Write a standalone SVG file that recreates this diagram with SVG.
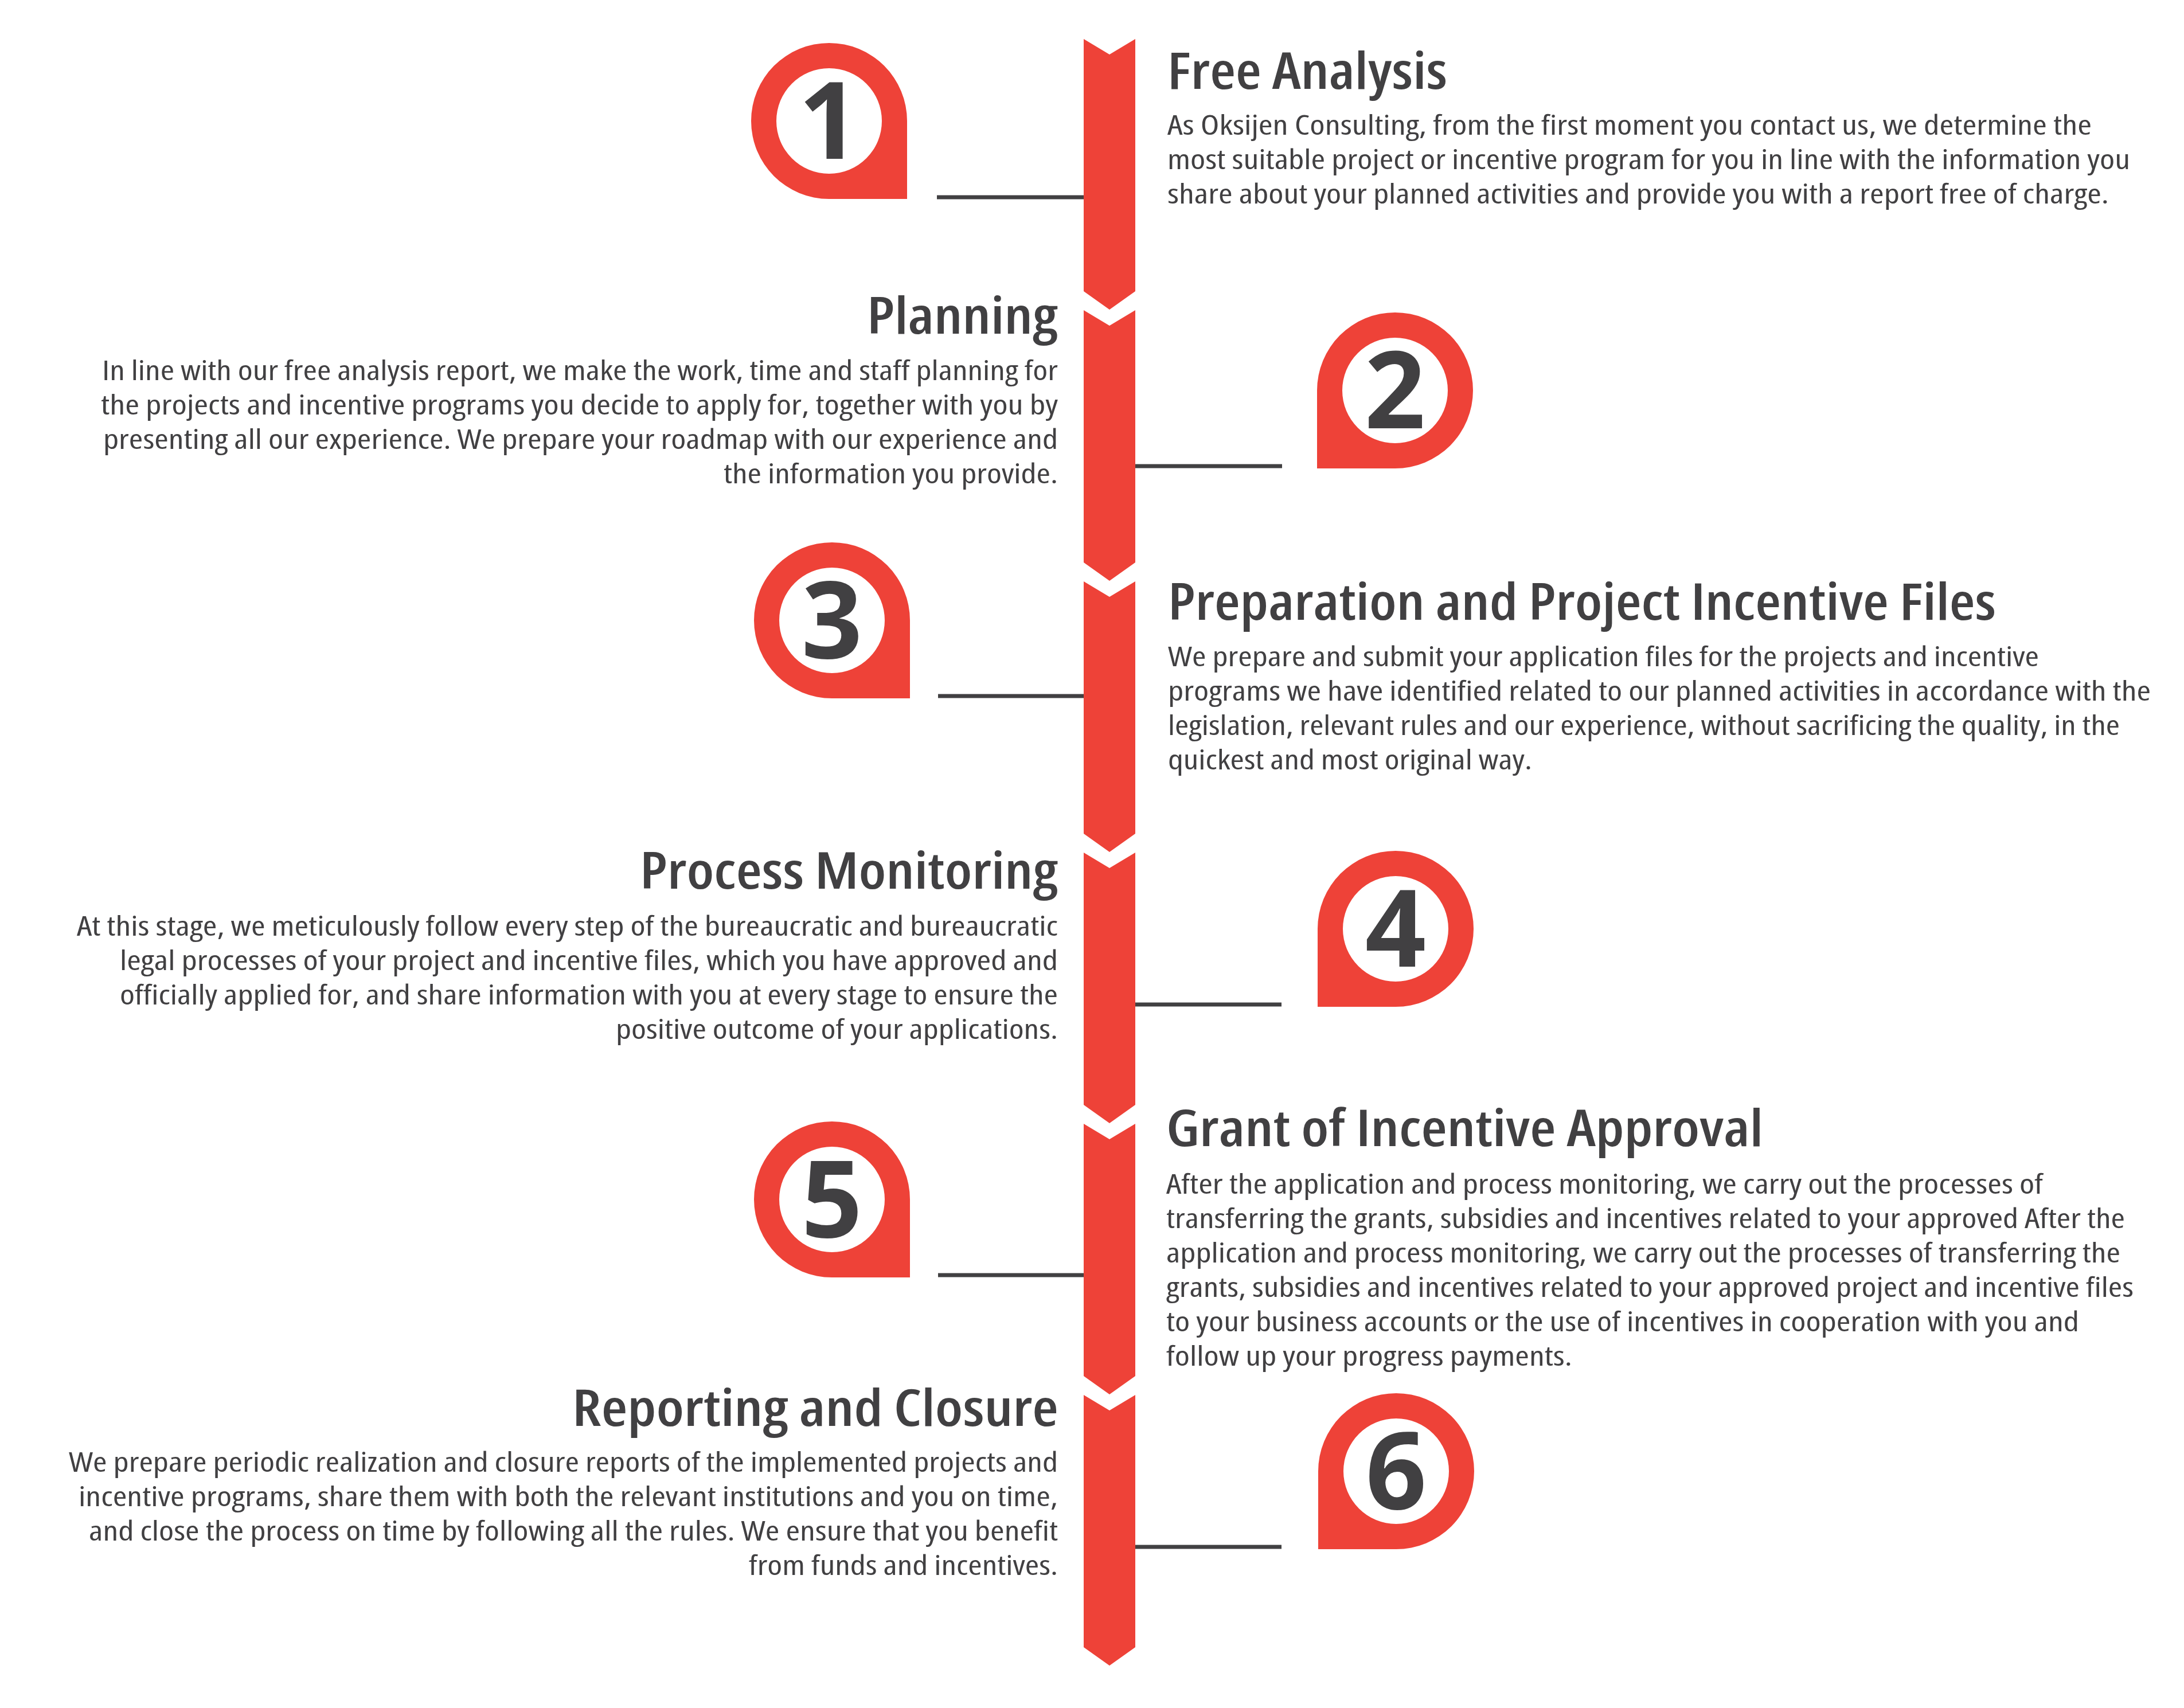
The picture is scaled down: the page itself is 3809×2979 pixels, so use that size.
<svg xmlns="http://www.w3.org/2000/svg" width="3809" height="2979" viewBox="0 0 3809 2979">
<style>
.bg{fill:#ffffff}
.seg{fill:#EE4238}
.pin{fill:#EE4238;fill-rule:evenodd}
.num{font-family:"Open Sans","Noto Sans",sans-serif;font-weight:700;font-size:186px;fill:#414042;text-anchor:middle}
.ttl{font-family:"Open Sans","Noto Sans",sans-serif;font-weight:600;font-size:88px;font-stretch:87.5%;fill:#414042}
.txt{font-family:"Open Sans","Noto Sans",sans-serif;font-weight:400;font-size:48px;font-stretch:80%;fill:#414042}
.con{stroke:#414042;stroke-width:7;fill:none}
</style>
<rect class="bg" x="0" y="0" width="3809" height="2979"/>
<g id="spine">
<polygon class="seg" points="1890,68 1935,95 1980,68 1980,508 1935,540 1890,508"/>
<polygon class="seg" points="1890,541 1935,568 1980,541 1980,981 1935,1013 1890,981"/>
<polygon class="seg" points="1890,1014 1935,1041 1980,1014 1980,1454 1935,1486 1890,1454"/>
<polygon class="seg" points="1890,1487 1935,1514 1980,1487 1980,1927 1935,1959 1890,1927"/>
<polygon class="seg" points="1890,1960 1935,1987 1980,1960 1980,2400 1935,2432 1890,2400"/>
<polygon class="seg" points="1890,2433 1935,2460 1980,2433 1980,2873 1935,2905 1890,2873"/>
</g>
<g id="connectors">
<line class="con" x1="1634" y1="344" x2="1890" y2="344"/>
<line class="con" x1="1980" y1="813" x2="2236" y2="813"/>
<line class="con" x1="1636" y1="1214" x2="1890" y2="1214"/>
<line class="con" x1="1980" y1="1752" x2="2235" y2="1752"/>
<line class="con" x1="1636" y1="2224" x2="1890" y2="2224"/>
<line class="con" x1="1980" y1="2698" x2="2235" y2="2698"/>
</g>
<g id="step1">
<path class="pin" d="M1582,211 L1582,347 L1446,347 A136,136 0 1 1 1582,211 Z M1538,211 A92,92 0 1 0 1354,211 A92,92 0 1 0 1538,211 Z"/>
<text class="num" x="1446" y="277">1</text>
<text class="ttl" x="2036" y="155" textLength="488" lengthAdjust="spacingAndGlyphs">Free Analysis</text>
<text class="txt" x="2036" y="235" textLength="1612" lengthAdjust="spacingAndGlyphs">As Oksijen Consulting, from the first moment you contact us, we determine the</text>
<text class="txt" x="2036" y="295" textLength="1679" lengthAdjust="spacingAndGlyphs">most suitable project or incentive program for you in line with the information you</text>
<text class="txt" x="2036" y="355" textLength="1642" lengthAdjust="spacingAndGlyphs">share about your planned activities and provide you with a report free of charge.</text>
</g>
<g id="step2">
<path class="pin" d="M2297,681 L2297,817 L2433,817 A136,136 0 1 0 2297,681 Z M2341,681 A92,92 0 1 0 2525,681 A92,92 0 1 0 2341,681 Z"/>
<text class="num" x="2433" y="747">2</text>
<text class="ttl" x="1512" y="582" textLength="333" lengthAdjust="spacingAndGlyphs">Planning</text>
<text class="txt" x="178" y="663" textLength="1667" lengthAdjust="spacingAndGlyphs">In line with our free analysis report, we make the work, time and staff planning for</text>
<text class="txt" x="176" y="723" textLength="1669" lengthAdjust="spacingAndGlyphs">the projects and incentive programs you decide to apply for, together with you by</text>
<text class="txt" x="180" y="783" textLength="1665" lengthAdjust="spacingAndGlyphs">presenting all our experience. We prepare your roadmap with our experience and</text>
<text class="txt" x="1262" y="843" textLength="583" lengthAdjust="spacingAndGlyphs">the information you provide.</text>
</g>
<g id="step3">
<path class="pin" d="M1587,1082 L1587,1218 L1451,1218 A136,136 0 1 1 1587,1082 Z M1543,1082 A92,92 0 1 0 1359,1082 A92,92 0 1 0 1543,1082 Z"/>
<text class="num" x="1451" y="1148">3</text>
<text class="ttl" x="2037" y="1081" textLength="1444" lengthAdjust="spacingAndGlyphs">Preparation and Project Incentive Files</text>
<text class="txt" x="2037" y="1162" textLength="1519" lengthAdjust="spacingAndGlyphs">We prepare and submit your application files for the projects and incentive</text>
<text class="txt" x="2037" y="1222" textLength="1714" lengthAdjust="spacingAndGlyphs">programs we have identified related to our planned activities in accordance with the</text>
<text class="txt" x="2037" y="1282" textLength="1660" lengthAdjust="spacingAndGlyphs">legislation, relevant rules and our experience, without sacrificing the quality, in the</text>
<text class="txt" x="2037" y="1342" textLength="635" lengthAdjust="spacingAndGlyphs">quickest and most original way.</text>
</g>
<g id="step4">
<path class="pin" d="M2298,1620 L2298,1756 L2434,1756 A136,136 0 1 0 2298,1620 Z M2342,1620 A92,92 0 1 0 2526,1620 A92,92 0 1 0 2342,1620 Z"/>
<text class="num" x="2434" y="1686">4</text>
<text class="ttl" x="1116" y="1550" textLength="729" lengthAdjust="spacingAndGlyphs">Process Monitoring</text>
<text class="txt" x="134" y="1632" textLength="1711" lengthAdjust="spacingAndGlyphs">At this stage, we meticulously follow every step of the bureaucratic and bureaucratic</text>
<text class="txt" x="209" y="1692" textLength="1636" lengthAdjust="spacingAndGlyphs">legal processes of your project and incentive files, which you have approved and</text>
<text class="txt" x="209" y="1752" textLength="1636" lengthAdjust="spacingAndGlyphs">officially applied for, and share information with you at every stage to ensure the</text>
<text class="txt" x="1074" y="1812" textLength="771" lengthAdjust="spacingAndGlyphs">positive outcome of your applications.</text>
</g>
<g id="step5">
<path class="pin" d="M1587,2092 L1587,2228 L1451,2228 A136,136 0 1 1 1587,2092 Z M1543,2092 A92,92 0 1 0 1359,2092 A92,92 0 1 0 1543,2092 Z"/>
<text class="num" x="1451" y="2158">5</text>
<text class="ttl" x="2034" y="1999" textLength="1041" lengthAdjust="spacingAndGlyphs">Grant of Incentive Approval</text>
<text class="txt" x="2034" y="2082" textLength="1529" lengthAdjust="spacingAndGlyphs">After the application and process monitoring, we carry out the processes of</text>
<text class="txt" x="2034" y="2142" textLength="1672" lengthAdjust="spacingAndGlyphs">transferring the grants, subsidies and incentives related to your approved After the</text>
<text class="txt" x="2034" y="2202" textLength="1664" lengthAdjust="spacingAndGlyphs">application and process monitoring, we carry out the processes of transferring the</text>
<text class="txt" x="2034" y="2262" textLength="1687" lengthAdjust="spacingAndGlyphs">grants, subsidies and incentives related to your approved project and incentive files</text>
<text class="txt" x="2034" y="2322" textLength="1592" lengthAdjust="spacingAndGlyphs">to your business accounts or the use of incentives in cooperation with you and</text>
<text class="txt" x="2034" y="2382" textLength="708" lengthAdjust="spacingAndGlyphs">follow up your progress payments.</text>
</g>
<g id="step6">
<path class="pin" d="M2299,2566 L2299,2702 L2435,2702 A136,136 0 1 0 2299,2566 Z M2343,2566 A92,92 0 1 0 2527,2566 A92,92 0 1 0 2343,2566 Z"/>
<text class="num" x="2435" y="2632">6</text>
<text class="ttl" x="998" y="2487" textLength="848" lengthAdjust="spacingAndGlyphs">Reporting and Closure</text>
<text class="txt" x="120" y="2567" textLength="1725" lengthAdjust="spacingAndGlyphs">We prepare periodic realization and closure reports of the implemented projects and</text>
<text class="txt" x="137" y="2627" textLength="1708" lengthAdjust="spacingAndGlyphs">incentive programs, share them with both the relevant institutions and you on time,</text>
<text class="txt" x="155" y="2687" textLength="1690" lengthAdjust="spacingAndGlyphs">and close the process on time by following all the rules. We ensure that you benefit</text>
<text class="txt" x="1306" y="2747" textLength="539" lengthAdjust="spacingAndGlyphs">from funds and incentives.</text>
</g>
</svg>
